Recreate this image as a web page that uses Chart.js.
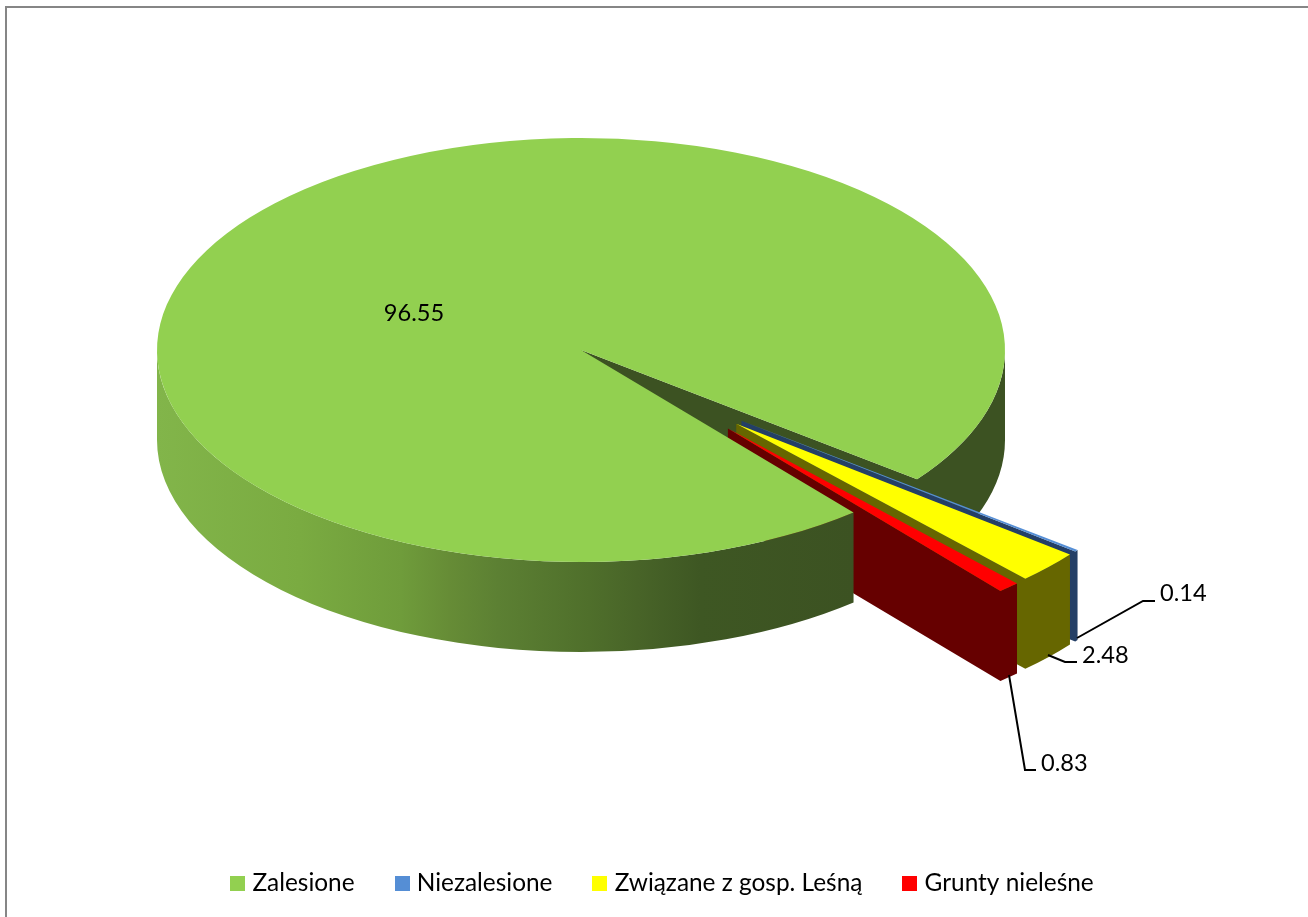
<!DOCTYPE html>
<html><head><meta charset="utf-8">
<script src="https://cdn.jsdelivr.net/npm/chart.js@4"></script>
<style>html,body{margin:0;padding:0;background:#fff;overflow:hidden}#w{width:1308px;height:917px;position:relative}</style>
</head><body><div id="w"><canvas id="c"></canvas></div>
<script>
const categories = ['Zalesione', 'Niezalesione', 'Związane z gosp. Leśną', 'Grunty nieleśne'];
const shares = [96.55, 0.14, 2.48, 0.83];
const topColors = ['#92d050', '#558ed5', '#ffff00', '#ff0000'];
const wallColors = ['#3c5222', '#243f66', '#666600', '#660000'];

const view = {cx: 581, cy: 350, radius: 424, squash: 0.5, depth: 90};
const explodeDist = [0, 214, 214, 215];
const explodeDeg = [0, 41.4, 43.5, 46.9];
const font = '"Lato", "Carlito", sans-serif';
const labelSize = 23.6;
const legendSize = 24.4;
const labelSpots = [
  {x: 414, y: 313, align: 'center', line: null},
  {x: 1160, y: 593, align: 'left', line: [[1077,638],[1143,601],[1155,601]]},
  {x: 1082, y: 655, align: 'left', line: [[1048,655],[1065,662],[1077,662]]},
  {x: 1041, y: 763, align: 'left', line: [[1009,675],[1025,770],[1036,770]]}
];

function shift(i){
  const a = explodeDeg[i]*Math.PI/180;
  return {dx: explodeDist[i]*Math.cos(a), dy: explodeDist[i]*Math.sin(a)*view.squash};
}
function pt(angle, s, down){
  const ry = view.radius*view.squash;
  return {x: view.cx + s.dx + view.radius*Math.cos(angle), y: view.cy + s.dy + ry*Math.sin(angle) + (down||0)};
}
function drawTop(ctx, el, s){
  ctx.save();
  ctx.translate(view.cx + s.dx, view.cy + s.dy);
  ctx.scale(1, view.squash);
  ctx.translate(-el.x, -el.y);
  el.draw(ctx);
  ctx.restore();
}

const pie3d = {
  id: 'pie3d',
  afterLayout(chart){ if (chart.legend) chart.legend.top = 826; },
  beforeDraw(chart){
    const ctx = chart.ctx;
    ctx.save();
    ctx.fillStyle = '#fff';
    ctx.fillRect(0, 0, chart.width, chart.height);
    ctx.strokeStyle = '#868686';
    ctx.lineWidth = 2;
    ctx.beginPath();
    ctx.moveTo(6, 917); ctx.lineTo(6, 7); ctx.lineTo(1308, 7);
    ctx.stroke();
    ctx.restore();
  },
  beforeDatasetDraw(chart){
    const ctx = chart.ctx, els = chart.getDatasetMeta(0).data;
    const {cx, cy, radius: rx, squash, depth: D} = view, ry = rx*squash;
    const g = els[0], none = {dx: 0, dy: 0};
    const start = g.startAngle, end = g.endAngle % (2*Math.PI);
    ctx.save();
    // inner wall and back-right rim of the big slice
    const e1 = pt(end, none, D);
    ctx.fillStyle = wallColors[0];
    ctx.beginPath();
    ctx.moveTo(cx, cy); ctx.lineTo(cx, cy + D); ctx.lineTo(e1.x, e1.y);
    ctx.ellipse(cx, cy + D, rx, ry, 0, end, 0, true);
    ctx.lineTo(cx + rx, cy);
    ctx.ellipse(cx, cy, rx, ry, 0, 0, end, false);
    ctx.closePath(); ctx.fill();
    // exploded slices: side face and outer rim as one shape, then the top
    for (let i = 1; i < els.length; i++){
      const el = els[i], s = shift(i);
      const b = pt(el.endAngle, s, D);
      const ax = cx + s.dx, ay = cy + s.dy;
      ctx.fillStyle = wallColors[i];
      ctx.beginPath();
      ctx.moveTo(ax, ay); ctx.lineTo(ax, ay + D); ctx.lineTo(b.x, b.y);
      ctx.ellipse(ax, ay + D, rx, ry, 0, el.endAngle, el.startAngle, true);
      ctx.ellipse(ax, ay, rx, ry, 0, el.startAngle, el.endAngle, false);
      ctx.closePath(); ctx.fill();
      drawTop(ctx, el, s);
    }
    // front rim of the big slice
    const grad = ctx.createLinearGradient(cx - rx, 0, pt(start, none).x, 0);
    const stops = [[0,'#82b54a'],[0.205,'#7aab41'],[0.35,'#6f9c3b'],[0.42,'#668c36'],[0.49,'#5c8033'],[0.62,'#4f6f2b'],[0.69,'#486428'],[0.78,'#3e5723'],[1,'#3c5222']];
    stops.forEach(p => grad.addColorStop(p[0], p[1]));
    ctx.fillStyle = grad;
    ctx.beginPath();
    ctx.ellipse(cx, cy, rx, ry, 0, start, Math.PI, false);
    ctx.ellipse(cx, cy + D, rx, ry, 0, Math.PI, start, true);
    ctx.closePath(); ctx.fill();
    drawTop(ctx, g, none);
    ctx.restore();
    return false;
  },
  afterDraw(chart){
    const ctx = chart.ctx;
    ctx.save();
    ctx.fillStyle = '#000'; ctx.strokeStyle = '#000'; ctx.lineWidth = 2;
    ctx.font = labelSize + 'px ' + font;
    ctx.textBaseline = 'middle';
    shares.forEach((v, i) => {
      const l = labelSpots[i];
      if (l.line){
        ctx.beginPath();
        l.line.forEach((p, k) => k ? ctx.lineTo(p[0], p[1]) : ctx.moveTo(p[0], p[1]));
        ctx.stroke();
      }
      ctx.textAlign = l.align;
      ctx.fillText(v.toFixed(2), l.x, l.y);
    });
    ctx.restore();
  }
};

function swatch(color){
  const c = document.createElement('canvas');
  c.width = 15; c.height = 15;
  const x = c.getContext('2d');
  x.fillStyle = color; x.fillRect(0, 0, 15, 15);
  return c;
}

new Chart(document.getElementById('c'), {
  type: 'pie',
  data: {
    labels: categories,
    datasets: [{data: shares, backgroundColor: topColors, borderWidth: 0, offset: 0, clip: false}]
  },
  options: {
    responsive: true,
    maintainAspectRatio: false,
    animation: false,
    rotation: 140,
    radius: view.radius,
    layout: {padding: {left: 21}},
    plugins: {
      tooltip: {enabled: false},
      legend: {
        position: 'bottom',
        labels: {
          usePointStyle: true,
          pointStyleWidth: 5,
          padding: 45,
          color: '#000',
          font: {family: font, size: legendSize},
          generateLabels(chart){
            return Chart.overrides.pie.plugins.legend.labels.generateLabels(chart)
              .map((it, i) => Object.assign(it, {pointStyle: swatch(topColors[i]), strokeStyle: topColors[i], lineWidth: 0}));
          }
        }
      }
    }
  },
  plugins: [pie3d]
});
</script></body></html>
